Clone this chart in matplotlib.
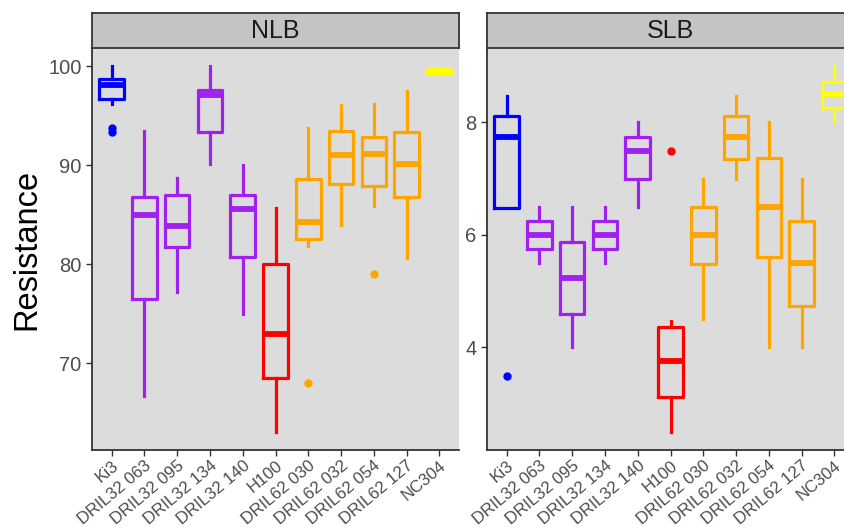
import numpy as np
import matplotlib
matplotlib.use("Agg")
import matplotlib.pyplot as plt

plt.rcParams['font.family'] = ['Liberation Sans', 'DejaVu Sans']

lines = ["Ki3", "DRIL32 063", "DRIL32 095", "DRIL32 134", "DRIL32 140", "H100",
         "DRIL62 030", "DRIL62 032", "DRIL62 054", "DRIL62 127", "NC304"]
colors = ["#0000FF", "#A020F0", "#A020F0", "#A020F0", "#A020F0", "#FF0000",
          "#FFA500", "#FFA500", "#FFA500", "#FFA500", "#FFFF00"]

# NLB
nlb_lo = [96.2, 66.7, 77.2, 90.1, 75.0, 63.1, 81.9, 84.0, 85.9, 80.6, 99.2]
nlb_q1 = [96.7, 76.5, 81.8, 93.4, 80.7, 68.5, 82.6, 88.1, 87.9, 86.8, 99.35]
nlb_med = [98.1, 85.0, 83.9, 97.1, 85.6, 73.0, 84.3, 91.0, 91.1, 90.1, 99.5]
nlb_q3 = [98.75, 86.8, 87.0, 97.6, 87.0, 80.0, 88.65, 93.5, 92.9, 93.4, 99.65]
nlb_hi = [100.0, 93.5, 88.7, 100.0, 90.0, 85.7, 93.8, 96.1, 96.2, 97.5, 99.8]
nlb_out = [[93.8, 93.4], [], [], [], [], [], [68.0], [], [79.0], [], []]

# SLB
slb_lo = [6.48, 5.5, 4.0, 5.5, 6.5, 2.5, 4.5, 7.0, 4.0, 4.0, 8.0]
slb_q1 = [6.48, 5.75, 4.6, 5.75, 7.0, 3.11, 5.48, 7.35, 5.61, 4.74, 8.25]
slb_med = [7.75, 6.0, 5.24, 6.0, 7.5, 3.75, 6.0, 7.75, 6.5, 5.5, 8.5]
slb_q3 = [8.12, 6.25, 5.88, 6.25, 7.75, 4.37, 6.5, 8.12, 7.37, 6.25, 8.72]
slb_hi = [8.47, 6.5, 6.5, 6.5, 8.0, 4.47, 7.0, 8.47, 8.0, 7.0, 9.0]
slb_out = [[3.5], [], [], [], [], [7.5], [], [], [], [], []]

panels = [
    ("NLB", nlb_lo, nlb_q1, nlb_med, nlb_q3, nlb_hi, nlb_out, [70, 80, 90, 100]),
    ("SLB", slb_lo, slb_q1, slb_med, slb_q3, slb_hi, slb_out, [4, 6, 8]),
]

fig = plt.figure(figsize=(8.44, 5.29), dpi=100)
W, H = 844.0, 529.0
lefts = [92, 487]
pw = 367

for i, (name, lo, q1, med, q3, hi, out, yt) in enumerate(panels):
    ax = fig.add_axes([lefts[i] / W, (H - 450) / H, pw / W, 402 / H])
    ax.set_facecolor("#DCDCDC")
    pos = np.arange(1, len(lines) + 1)
    for j in range(len(lines)):
        st = dict(whislo=lo[j], q1=q1[j], med=med[j], q3=q3[j], whishi=hi[j], fliers=out[j])
        c = colors[j]
        ax.bxp([st], positions=[pos[j]], widths=0.75, showcaps=False,
               boxprops=dict(color=c, linewidth=2.3),
               whiskerprops=dict(color=c, linewidth=2.3),
               medianprops=dict(color=c, linewidth=4.2, solid_capstyle='butt'),
               flierprops=dict(marker='o', markerfacecolor=c, markeredgecolor=c,
                               markersize=5, linestyle='none'))
    allv = lo + hi + sum(out, [])
    vmin, vmax = min(allv), max(allv)
    pad = (vmax - vmin) * 0.05
    ax.set_ylim(vmin - pad, vmax + pad)
    ax.set_xlim(0.4, len(lines) + 0.6)
    ax.set_yticks(yt)
    ax.set_xticks(pos)
    ax.set_xticklabels(lines, rotation=40, ha='right', rotation_mode='anchor',
                       fontsize=12.2, color="#4D4D4D")
    ax.tick_params(axis='y', labelsize=14.5, labelcolor="#4D4D4D", color="#333333",
                   length=4, width=1)
    ax.tick_params(axis='x', color="#333333", length=4, width=1, pad=2)
    for s in ['top', 'right']:
        ax.spines[s].set_visible(False)
    for s in ['left', 'bottom']:
        ax.spines[s].set_color("#333333")
        ax.spines[s].set_linewidth(1.3)

    sax = fig.add_axes([lefts[i] / W, (H - 48) / H, pw / W, 35 / H])
    sax.set_facecolor("#C4C4C4")
    sax.set_xticks([])
    sax.set_yticks([])
    for s in sax.spines.values():
        s.set_color("#333333")
        s.set_linewidth(1.3)
    sax.text(0.5, 0.5, name, ha='center', va='center', fontsize=18, color="#1A1A1A",
             transform=sax.transAxes)

    if i == 0:
        ax.set_ylabel("Resistance", fontsize=23.5, labelpad=4)

fig.savefig("out.png", dpi=100)
